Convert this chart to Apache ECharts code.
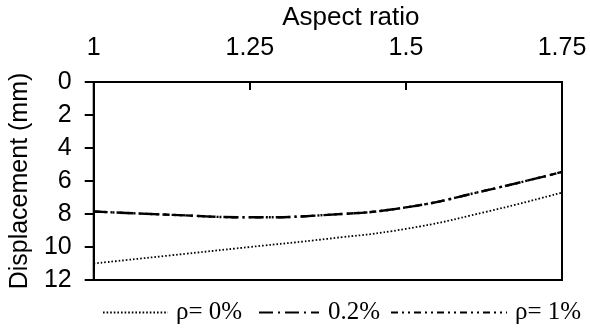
<!DOCTYPE html>
<html>
<head>
<meta charset="utf-8">
<script src="https://cdn.jsdelivr.net/npm/echarts@6/dist/echarts.min.js"></script>
<style>
  html, body { margin: 0; padding: 0; background: #fff; }
  #chart { width: 590px; height: 328px; }
</style>
</head>
<body>
<div id="chart"></div>
<script>
    // aspect ratio samples
    const aspectRatios = [1, 1.125, 1.25, 1.375, 1.5, 1.625, 1.75];
    // displacement (mm)
    const rho0 = [11.0, 10.5, 10.0, 9.5, 8.9, 7.9, 6.7];
    const rho02 = [7.85, 8.05, 8.2, 8.05, 7.6, 6.6, 5.45];
    const rho1 = [7.85, 8.05, 8.2, 8.05, 7.6, 6.6, 5.45];
    const seriesNames = ['ρ= 0%', '0.2%', 'ρ= 1%'];
    const xTicks = [1, 1.25, 1.5, 1.75];
    const yTicks = [0, 2, 4, 6, 8, 10, 12];

    const chart = echarts.init(document.getElementById('chart'));

    function pairs(values) {
        return aspectRatios.map((x, i) => [x, values[i]]);
    }

    const sansFont = 'Liberation Sans, Arial, sans-serif';
    const serifFont = 'Liberation Serif, Times New Roman, serif';

    // one legend per entry so every icon can get its own width / text gap
    function legendAt(name, left, width, textGap) {
        return {
            data: [name],
            left: left,
            top: 300,
            padding: 0,
            itemWidth: width,
            itemHeight: 14,
            itemStyle: { opacity: 0 },
            textStyle: {
                fontFamily: serifFont, fontSize: 25, color: '#000',
                padding: [0, 0, 0, textGap]
            }
        };
    }

    const option = {
        animation: false,
        grid: {
            left: 92, right: 28, top: 81, bottom: 48,
            show: true, borderColor: '#000', borderWidth: 2
        },
        legend: [
            legendAt(seriesNames[0], 102, 65, 3),
            legendAt(seriesNames[1], 258, 60, 4),
            legendAt(seriesNames[2], 390, 116, 3)
        ],
        xAxis: {
            type: 'value',
            position: 'top',
            min: xTicks[0],
            max: xTicks[xTicks.length - 1],
            interval: 0.25,
            name: 'Aspect ratio',
            nameLocation: 'middle',
            nameGap: 51,
            nameTextStyle: { fontFamily: sansFont, fontSize: 26, color: '#000', padding: [0, 0, 0, 46] },
            axisLine: { lineStyle: { color: '#000', width: 2 } },
            axisTick: { inside: true, length: 8, lineStyle: { color: '#000', width: 2 } },
            axisLabel: {
                fontFamily: sansFont, fontSize: 25, color: '#000', margin: 21,
                formatter: v => String(Math.round(v * 100) / 100)
            },
            splitLine: { show: false }
        },
        yAxis: {
            type: 'value',
            inverse: true,
            min: yTicks[0],
            max: yTicks[yTicks.length - 1],
            interval: 2,
            name: 'Displacement (mm)',
            nameLocation: 'middle',
            nameGap: 57,
            nameTextStyle: { fontFamily: sansFont, fontSize: 25, color: '#000' },
            axisLine: { lineStyle: { color: '#000', width: 2 } },
            axisTick: { length: 9, lineStyle: { color: '#000', width: 2 } },
            axisLabel: { fontFamily: sansFont, fontSize: 25, color: '#000', margin: 22 },
            splitLine: { show: false }
        },
        series: [
            {
                name: seriesNames[0],
                type: 'line',
                smooth: true,
                symbol: 'none',
                data: pairs(rho0),
                lineStyle: { color: '#000', width: 1.8, type: [1.6, 2] }
            },
            {
                name: seriesNames[1],
                type: 'line',
                smooth: true,
                symbol: 'none',
                data: pairs(rho02),
                lineStyle: { color: '#000', width: 2.4, type: [14, 5, 2, 5] }
            },
            {
                name: seriesNames[2],
                type: 'line',
                smooth: true,
                symbol: 'none',
                data: pairs(rho1),
                lineStyle: { color: '#000', width: 2.4, type: [7, 4, 2, 4, 2, 4] }
            }
        ]
    };

    chart.setOption(option);
</script>
</body>
</html>
